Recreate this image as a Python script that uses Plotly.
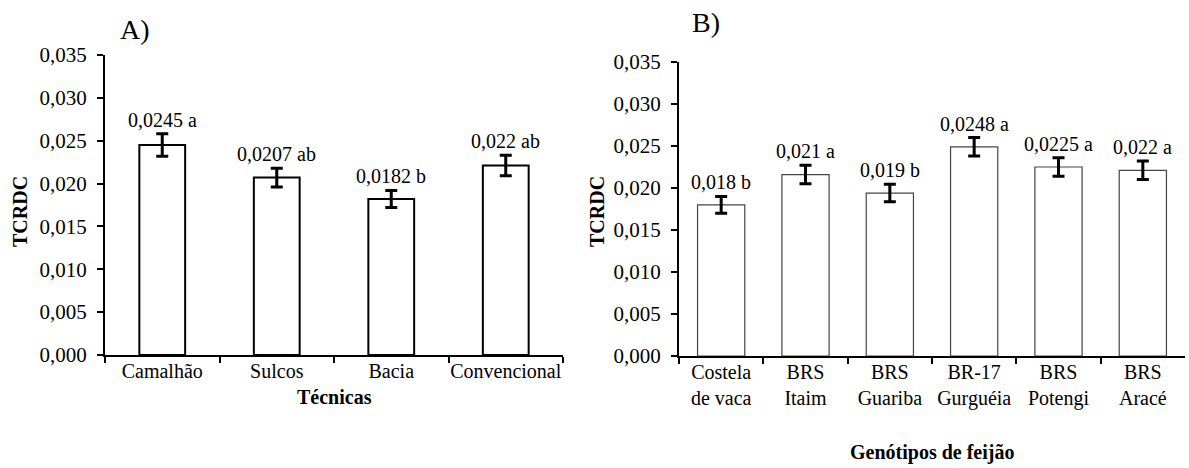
import plotly.graph_objects as go

# Panel A data
cat_a = ["Camalhão", "Sulcos", "Bacia", "Convencional"]
val_a = [0.0245, 0.0207, 0.0182, 0.0221]
err_a = [0.0013, 0.0011, 0.0010, 0.0012]
lab_a = ["0,0245 a", "0,0207 ab", "0,0182 b", "0,022 ab"]

# Panel B data
cat_b = ["Costela<br>de vaca", "BRS<br>Itaim", "BRS<br>Guariba", "BR-17<br>Gurguéia", "BRS<br>Potengi", "BRS<br>Aracé"]
val_b = [0.0180, 0.0216, 0.0194, 0.0249, 0.0225, 0.0221]
err_b = [0.0010, 0.0011, 0.00105, 0.0011, 0.0011, 0.0011]
lab_b = ["0,018 b", "0,021 a", "0,019 b", "0,0248 a", "0,0225 a", "0,022 a"]

y_ticks = [0, 0.005, 0.010, 0.015, 0.020, 0.025, 0.030, 0.035]

FONT = "Liberation Serif"
W, H = 1189, 468

fig = go.Figure()
fig.add_trace(go.Bar(
    x=cat_a, y=val_a, xaxis="x", yaxis="y", width=0.40,
    marker=dict(color="white", line=dict(color="black", width=2)),
    error_y=dict(type="data", array=err_a, visible=True, color="black", thickness=3, width=6),
    showlegend=False, hoverinfo="skip"))
fig.add_trace(go.Bar(
    x=cat_b, y=val_b, xaxis="x2", yaxis="y2", width=0.56,
    marker=dict(color="white", line=dict(color="#444444", width=1.2)),
    error_y=dict(type="data", array=err_b, visible=True, color="black", thickness=3, width=6),
    showlegend=False, hoverinfo="skip"))

annotations = []
for c, v, e, t in zip(cat_a, val_a, err_a, lab_a):
    annotations.append(dict(x=c, y=v + e, xref="x", yref="y", text=t, showarrow=False,
                            yanchor="bottom", yshift=1, font=dict(size=20, color="black", family=FONT)))
for c, v, e, t in zip(cat_b, val_b, err_b, lab_b):
    annotations.append(dict(x=c, y=v + e, xref="x2", yref="y2", text=t, showarrow=False,
                            yanchor="bottom", yshift=1, font=dict(size=20, color="black", family=FONT)))

def px(x):
    return x / W

def py(y):
    return 1 - y / H

annotations += [
    dict(x=px(135), y=py(29), xref="paper", yref="paper", text="A)", showarrow=False,
         xanchor="center", yanchor="middle", font=dict(size=28, family=FONT, color="black")),
    dict(x=px(706), y=py(22), xref="paper", yref="paper", text="B)", showarrow=False,
         xanchor="center", yanchor="middle", font=dict(size=28, family=FONT, color="black")),
    dict(x=px(20), y=py(212), xref="paper", yref="paper", text="<b>TCRDC</b>", showarrow=False,
         textangle=-90, xanchor="center", yanchor="middle", font=dict(size=20, family=FONT, color="black")),
    dict(x=px(597), y=py(212), xref="paper", yref="paper", text="<b>TCRDC</b>", showarrow=False,
         textangle=-90, xanchor="center", yanchor="middle", font=dict(size=20, family=FONT, color="black")),
    dict(x=px(334), y=py(397), xref="paper", yref="paper", text="<b>Técnicas</b>", showarrow=False,
         xanchor="center", yanchor="middle", font=dict(size=20, family=FONT, color="black")),
    dict(x=px(932), y=py(452), xref="paper", yref="paper", text="<b>Genótipos de feijão</b>", showarrow=False,
         xanchor="center", yanchor="middle", font=dict(size=20, family=FONT, color="black")),
]

xcommon = dict(type="category", showline=True, linecolor="black", linewidth=2,
               ticks="outside", tickson="boundaries", ticklen=6, tickwidth=2, tickcolor="black",
               tickangle=0, automargin=False, ticklabelstandoff=-3,
               showgrid=False, zeroline=False, tickfont=dict(size=20, family=FONT, color="black"))
ycommon = dict(range=[0, 0.035], tickvals=y_ticks, tickformat=".3f", showline=True,
               linecolor="black", linewidth=2, ticks="outside", ticklen=6, tickwidth=2,
               tickcolor="black", showgrid=False, zeroline=False, automargin=False,
               ticklabelstandoff=6,
               tickfont=dict(size=21, family=FONT, color="black"))

fig.update_layout(
    width=W, height=H,
    margin=dict(l=0, r=0, t=0, b=0),
    paper_bgcolor="white", plot_bgcolor="white",
    separators=",.",
    font=dict(family=FONT, color="black"),
    xaxis=dict(domain=[px(105), px(563)], anchor="y", **xcommon),
    yaxis=dict(domain=[py(355), py(55)], anchor="x", **ycommon),
    xaxis2=dict(domain=[px(679), px(1185)], anchor="y2", **xcommon),
    yaxis2=dict(domain=[py(356), py(62)], anchor="x2", **ycommon),
    annotations=annotations,
)

fig.write_html("out.html")
